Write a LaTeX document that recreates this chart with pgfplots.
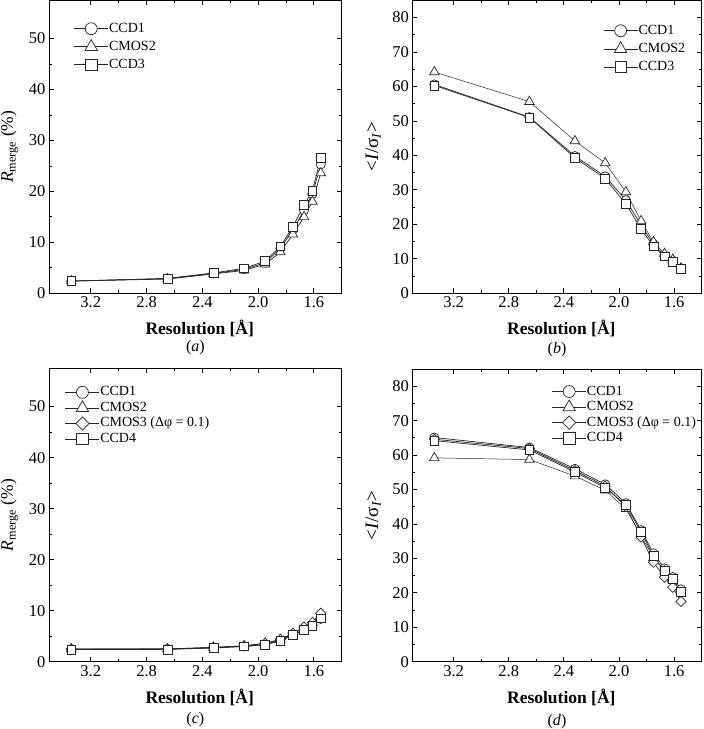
\documentclass[border=0pt]{standalone}
\usepackage{fontspec}
\setmainfont{Liberation Serif}
\usepackage{pgfplots}
\pgfplotsset{compat=1.18}

\pgfplotsset{
 myax/.style={
  scale only axis,
  xmin=1.4, xmax=3.5, x dir=reverse,
  xtick={1.6,2.0,2.4,2.8,3.2}, minor x tick num=1,
  x tick label style={/pgf/number format/.cd, fixed, fixed zerofill, precision=1, /tikz/.cd},
  ymin=0, minor y tick num=1,
  tick align=inside, major tick length=5pt, minor tick length=3pt,
  every tick/.style={black, line width=0.8pt},
  axis line style={line width=0.8pt},
  tick label style={font=\fontsize{16.5}{19}\selectfont},
  /pgf/number format/assume math mode=true,
  label style={font=\fontsize{17.5}{20}\selectfont},
  xlabel={\textbf{Resolution [Å]}},
  xlabel style={at={(axis description cs:0.515,-0.121)}, anchor=center},
  ylabel style={at={(axis description cs:-0.135,0.5)}, anchor=center},
  legend cell align=left,
  legend style={draw=none, fill=none, inner sep=0pt, outer sep=0pt,
    font=\fontsize{14}{16}\selectfont,
    nodes={inner sep=0.5pt, text height=10pt, text depth=3pt},
    row sep=4pt, anchor=north west},
  legend image code/.code={\draw[#1, every mark/.append style={scale=1.3}, mark repeat=2, mark phase=2] plot coordinates {(0pt,0pt) (17pt,0pt) (34pt,0pt)};},
  clip=false,
 },
 sc/.style={black!85, line width=0.7pt, mark=*, mark size=4.6pt, mark options={fill=white, line width=0.7pt}},
 st/.style={black!85, line width=0.7pt, mark=triangle*, mark size=5.5pt, mark options={fill=white, line width=0.7pt}},
 sd/.style={black!85, line width=0.7pt, mark=square*, mark size=3.6pt, mark options={fill=white, rotate=45, line width=0.7pt}},
 ss/.style={black!85, line width=0.7pt, mark=square*, mark size=4.4pt, mark options={fill=white, line width=0.7pt}},
}

\begin{document}
\begin{tikzpicture}
\useasboundingbox (0pt,0pt) rectangle (704pt,-729pt);

% (a)
\begin{axis}[myax, name=pa, at={(49pt,-293.3pt)}, anchor=south west,
  width=292.7pt, height=293pt, ymax=57.5, ytick={0,10,20,30,40,50},
  ylabel={\textit{R}\textsubscript{merge} (\%)},
  legend style={at={(rel axis cs:0.085,0.927)}}]
\addplot[sc] coordinates {(3.34,2.4) (2.65,2.9) (2.32,3.9) (2.10,4.7) (1.95,6.0) (1.84,8.8) (1.75,12.5) (1.67,16.3) (1.61,19.5) (1.55,25.3)};
\addplot[st] coordinates {(3.34,2.4) (2.65,2.8) (2.32,3.8) (2.10,4.5) (1.95,5.7) (1.84,8.1) (1.75,11.6) (1.67,15.0) (1.61,18.0) (1.55,23.6)};
\addplot[ss] coordinates {(3.34,2.4) (2.65,2.9) (2.32,4.0) (2.10,4.9) (1.95,6.3) (1.84,9.2) (1.75,13.1) (1.67,17.3) (1.61,20.1) (1.55,26.6)};
\legend{CCD1, CMOS2, CCD3}
\end{axis}
\node[font=\fontsize{16}{18}\selectfont] at ([yshift=-54pt]pa.south) {(\textit{a})};

% (b)
\begin{axis}[myax, name=pb, at={(412.3pt,-293.3pt)}, anchor=south west,
  width=289.4pt, height=293pt, ymax=85, ytick={0,10,...,80},
  ylabel={\fontsize{19}{21}\selectfont <\textit{I}/σ\textsubscript{\textit{I}}>},
  legend style={at={(rel axis cs:0.66,0.92)}}]
\addplot[sc] coordinates {(3.34,60.6) (2.65,51.1) (2.32,39.8) (2.10,33.9) (1.95,27.0) (1.84,19.8) (1.75,14.3) (1.67,11.0) (1.61,9.5) (1.55,7.2)};
\addplot[st, line width=0.5pt] coordinates {(3.34,64.2) (2.65,55.6) (2.32,44.2) (2.10,37.8) (1.95,29.4) (1.84,21.0) (1.75,14.9) (1.67,11.5) (1.61,9.8) (1.55,7.3)};
\addplot[ss] coordinates {(3.34,60.3) (2.65,51.0) (2.32,39.3) (2.10,33.3) (1.95,25.9) (1.84,18.7) (1.75,13.6) (1.67,10.7) (1.61,9.2) (1.55,7.1)};
\legend{CCD1, CMOS2, CCD3}
\end{axis}
\node[font=\fontsize{16}{18}\selectfont] at ([yshift=-56pt]pb.south) {(\textit{b})};

% (c)
\begin{axis}[myax, name=pc, at={(49pt,-661.7pt)}, anchor=south west,
  width=292.7pt, height=293.4pt, ymax=57.5, ytick={0,10,20,30,40,50},
  ylabel={\textit{R}\textsubscript{merge} (\%)},
  legend style={at={(rel axis cs:0.055,0.942)}, row sep=1.5pt}]
\addplot[sc] coordinates {(3.34,2.4) (2.65,2.5) (2.32,2.7) (2.10,3.0) (1.95,3.4) (1.84,4.2) (1.75,5.3) (1.67,6.3) (1.61,7.2) (1.55,8.4)};
\addplot[st] coordinates {(3.34,2.5) (2.65,2.5) (2.32,2.8) (2.10,3.1) (1.95,3.6) (1.84,4.3) (1.75,5.5) (1.67,6.6) (1.61,7.6) (1.55,9.3)};
\addplot[sd] coordinates {(3.34,2.5) (2.65,2.5) (2.32,2.8) (2.10,3.1) (1.95,3.6) (1.84,4.4) (1.75,5.6) (1.67,6.8) (1.61,7.7) (1.55,9.5)};
\addplot[ss] coordinates {(3.34,2.4) (2.65,2.4) (2.32,2.7) (2.10,3.0) (1.95,3.3) (1.84,4.1) (1.75,5.2) (1.67,6.2) (1.61,7.1) (1.55,8.5)};
\legend{CCD1, CMOS2, CMOS3 (Δφ = 0.1), CCD4}
\end{axis}
\node[font=\fontsize{16}{18}\selectfont] at ([yshift=-58pt]pc.south) {(\textit{c})};

% (d)
\begin{axis}[myax, name=pd, at={(412.3pt,-661.7pt)}, anchor=south west,
  width=289.4pt, height=292.7pt, ymax=85, ytick={0,10,...,80},
  ylabel={\fontsize{19}{21}\selectfont <\textit{I}/σ\textsubscript{\textit{I}}>},
  legend style={at={(rel axis cs:0.482,0.947)}, row sep=1.5pt}]
\addplot[sc] coordinates {(3.34,65.1) (2.65,62.2) (2.32,56.0) (2.10,51.5) (1.95,46.0) (1.84,38.2) (1.75,31.5) (1.67,27.1) (1.61,24.6) (1.55,21.0)};
\addplot[st, line width=0.5pt] coordinates {(3.34,59.2) (2.65,58.7) (2.32,53.9) (2.10,49.8) (1.95,44.4) (1.84,36.7) (1.75,30.2) (1.67,26.3) (1.61,23.8) (1.55,20.0)};
\addplot[sd] coordinates {(3.34,64.6) (2.65,61.9) (2.32,55.5) (2.10,51.0) (1.95,45.0) (1.84,36.2) (1.75,28.9) (1.67,24.5) (1.61,21.6) (1.55,17.5)};
\addplot[ss] coordinates {(3.34,64.2) (2.65,61.5) (2.32,55.1) (2.10,50.5) (1.95,45.5) (1.84,37.7) (1.75,30.7) (1.67,26.3) (1.61,24.0) (1.55,20.2)};
\legend{CCD1, CMOS2, CMOS3 (Δφ = 0.1), CCD4}
\end{axis}
\node[font=\fontsize{16}{18}\selectfont] at ([yshift=-60pt]pd.south) {(\textit{d})};
\end{tikzpicture}
\end{document}
